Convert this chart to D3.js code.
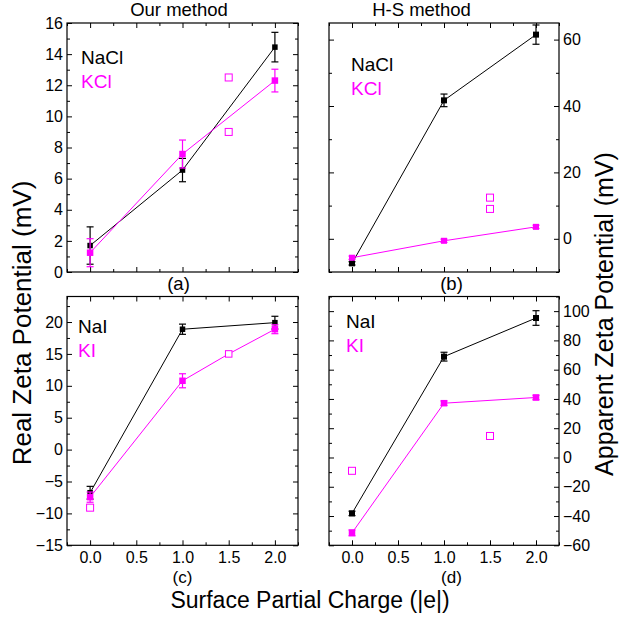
<!DOCTYPE html>
<html><head><meta charset="utf-8">
<script src="https://cdn.jsdelivr.net/npm/d3@7"></script>
<style>
body{margin:0;background:#fff;}
text{font-family:"Liberation Sans",Arial,sans-serif;}
</style></head>
<body><svg id="c" width="619" height="617"></svg>
<script>
// ---------- data ----------
const xTicks = [0, 0.5, 1, 1.5, 2];
const xTickLabels = ["0.0", "0.5", "1.0", "1.5", "2.0"];

// (a) Our method, chlorides
const aNaClX = [0, 1, 2];
const aNaClY = [1.7, 6.55, 14.45];
const aNaClErr = [1.2, 0.75, 0.95];
const aKClX = [0, 1, 2];
const aKClY = [1.24, 7.58, 12.3];
const aKClErr = [0.9, 0.9, 0.73];
const aOpenX = [1.5, 1.5];
const aOpenY = [12.5, 9.0];

// (b) H-S method, chlorides
const bNaClX = [0, 1, 2];
const bNaClY = [-7.4, 41.7, 61.5];
const bNaClErr = [0.5, 1.9, 2.9];
const bKClX = [0, 1, 2];
const bKClY = [-5.7, -0.6, 3.6];
const bKClErr = [0.5, 0.5, 0.5];
const bOpenX = [1.5, 1.5];
const bOpenY = [12.4, 9.0];

// (c) Our method, iodides
const cNaIX = [0, 1, 2];
const cNaIY = [-6.76, 18.87, 19.9];
const cNaIErr = [1.0, 0.8, 1.0];
const cKIX = [0, 1, 1.5, 2];
const cKIY = [-7.45, 10.79, 15.0, 18.87];
const cKIErr = [0.8, 1.1, 0, 0.7];
const cKIFilled = [true, true, false, true];
const cOpenX = [0];
const cOpenY = [-9.1];

// (d) H-S method, iodides
const dNaIX = [0, 1, 2];
const dNaIY = [-38.2, 68.9, 95.3];
const dNaIErr = [1.5, 3.0, 5.0];
const dKIX = [0, 1, 2];
const dKIY = [-51.5, 37.1, 41.0];
const dKIErr = [2.0, 1.5, 1.5];
const dOpenX = [0, 1.5];
const dOpenY = [-9.1, 14.7];

// axis setups
const aYTicks = [0, 2, 4, 6, 8, 10, 12, 14, 16];
const bYTicks = [0, 20, 40, 60];
const cYTicks = [-15, -10, -5, 0, 5, 10, 15, 20];
const dYTicks = [-60, -40, -20, 0, 20, 40, 60, 80, 100];

const MAG = "#ff00ff";
const FONT = "Liberation Sans, Arial, sans-serif";
const svg = d3.select("#c");

function panel(o) {
  const g = svg.append("g");
  const x = d3.scaleLinear().domain([-0.25, 2.25]).range([o.x0, o.x1]);
  const y = d3.scaleLinear().domain(o.ydom).range([o.y1, o.y0]);
  g.append("rect").attr("x", o.x0).attr("y", o.y0).attr("width", o.x1 - o.x0).attr("height", o.y1 - o.y0)
    .attr("fill", "none").attr("stroke", "#000").attr("stroke-width", 1.2);
  const xMajor = xTicks, xMinor = d3.range(-0.25, 2.26, 0.25).filter(v => !xMajor.some(m => Math.abs(m - v) < 1e-6));
  const bottomAx = d3.axisBottom(x).tickValues(xMajor).tickSizeInner(-5).tickSizeOuter(0)
    .tickFormat((d, i) => o.xlabels ? xTickLabels[i] : "");
  const bx = g.append("g").attr("transform", `translate(0,${o.y1})`).call(bottomAx);
  g.append("g").attr("transform", `translate(0,${o.y0})`).call(d3.axisTop(x).tickValues(xMajor).tickSizeInner(-5).tickSizeOuter(0).tickFormat(""));
  g.append("g").attr("transform", `translate(0,${o.y1})`).call(d3.axisBottom(x).tickValues(xMinor).tickSizeInner(-3).tickSizeOuter(0).tickFormat(""));
  g.append("g").attr("transform", `translate(0,${o.y0})`).call(d3.axisTop(x).tickValues(xMinor).tickSizeInner(-3).tickSizeOuter(0).tickFormat(""));
  bx.selectAll("text").attr("y", 6).attr("font-size", 16).attr("fill", "#000");
  const yMinor = d3.range(o.ydom[0], o.ydom[1] + 1e-6, o.minor).filter(v => !o.yticks.some(m => Math.abs(m - v) < 1e-6));
  const ylab = g.append("g").attr("transform", `translate(${o.x0},0)`).call(d3.axisLeft(y).tickValues(o.yticks).tickSizeInner(-5).tickSizeOuter(0).tickFormat(o.side === "left" ? d3.format("d") : ""));
  const yrab = g.append("g").attr("transform", `translate(${o.x1},0)`).call(d3.axisRight(y).tickValues(o.yticks).tickSizeInner(-5).tickSizeOuter(0).tickFormat(o.side === "right" ? d3.format("d") : ""));
  g.append("g").attr("transform", `translate(${o.x0},0)`).call(d3.axisLeft(y).tickValues(yMinor).tickSizeInner(-3).tickSizeOuter(0).tickFormat(""));
  g.append("g").attr("transform", `translate(${o.x1},0)`).call(d3.axisRight(y).tickValues(yMinor).tickSizeInner(-3).tickSizeOuter(0).tickFormat(""));
  ylab.selectAll("text").attr("x", -4).attr("font-size", 16).attr("fill", "#000");
  yrab.selectAll("text").attr("x", 4).attr("font-size", 16).attr("fill", "#000");
  g.selectAll(".domain").remove();
  g.selectAll(".tick line").attr("stroke", "#000").attr("stroke-width", 1);
  g.selectAll("g").attr("font-family", FONT);

  o.series.forEach(s => {
    const pts = s.x.map((xv, i) => ({ x: xv, y: s.y[i], e: s.err ? s.err[i] : 0, f: s.filled ? s.filled[i] : true }));
    g.append("path").datum(pts).attr("fill", "none").attr("stroke", s.color).attr("stroke-width", 1)
      .attr("d", d3.line().x(d => x(d.x)).y(d => y(d.y)));
    const cap = 3.5;
    pts.filter(d => d.e > 0).forEach(d => {
      const eg = g.append("g").attr("stroke", s.color).attr("stroke-width", 1.2);
      eg.append("line").attr("x1", x(d.x)).attr("x2", x(d.x)).attr("y1", y(d.y - d.e)).attr("y2", y(d.y + d.e));
      eg.append("line").attr("x1", x(d.x) - cap).attr("x2", x(d.x) + cap).attr("y1", y(d.y - d.e)).attr("y2", y(d.y - d.e));
      eg.append("line").attr("x1", x(d.x) - cap).attr("x2", x(d.x) + cap).attr("y1", y(d.y + d.e)).attr("y2", y(d.y + d.e));
    });
    const sz = s.size;
    g.selectAll(null).data(pts).join("rect")
      .attr("x", d => x(d.x) - (d.f ? sz : 6.5) / 2).attr("y", d => y(d.y) - (d.f ? sz : 6.5) / 2)
      .attr("width", d => d.f ? sz : 6.5).attr("height", d => d.f ? sz : 6.5)
      .attr("fill", d => d.f ? s.color : "#fff").attr("stroke", s.color).attr("stroke-width", d => d.f ? 0 : 1);
  });
  o.open.x.forEach((xv, i) => {
    g.append("rect").attr("x", x(xv) - 3.5).attr("y", y(o.open.y[i]) - 3.5).attr("width", 7).attr("height", 7)
      .attr("fill", "none").attr("stroke", MAG).attr("stroke-width", 1);
  });
  g.append("text").attr("x", o.leg[0]).attr("y", o.leg[1]).attr("font-size", 19).attr("fill", "#000").text(o.names[0]);
  g.append("text").attr("x", o.leg[0]).attr("y", o.leg[2]).attr("font-size", 19).attr("fill", MAG).text(o.names[1]);
  g.append("text").attr("x", o.lab[0]).attr("y", o.lab[1]).attr("text-anchor", "middle").attr("font-size", o.lab[3]).attr("fill", "#000").text(o.lab[2]);
}

panel({ x0: 67, x1: 298, y0: 23, y1: 272, ydom: [0, 16], yticks: aYTicks, minor: 1, side: "left", xlabels: false,
  series: [
    { x: aNaClX, y: aNaClY, err: aNaClErr, color: "#000", size: 5.5 },
    { x: aKClX, y: aKClY, err: aKClErr, color: MAG, size: 6.5 }
  ],
  open: { x: aOpenX, y: aOpenY }, leg: [81, 64, 88], names: ["NaCl", "KCl"], lab: [178.5, 290, "(a)", 18.5] });

panel({ x0: 329, x1: 559, y0: 23, y1: 272, ydom: [-10, 65], yticks: bYTicks, minor: 10, side: "right", xlabels: false,
  series: [
    { x: bNaClX, y: bNaClY, err: bNaClErr, color: "#000", size: 6 },
    { x: bKClX, y: bKClY, err: bKClErr, color: MAG, size: 6 }
  ],
  open: { x: bOpenX, y: bOpenY }, leg: [351, 71, 95], names: ["NaCl", "KCl"], lab: [451.5, 290, "(b)", 18.5] });

panel({ x0: 67, x1: 298, y0: 296.5, y1: 545.3, ydom: [-15, 24], yticks: cYTicks, minor: 2.5, side: "left", xlabels: true,
  series: [
    { x: cNaIX, y: cNaIY, err: cNaIErr, color: "#000", size: 5.5 },
    { x: cKIX, y: cKIY, err: cKIErr, filled: cKIFilled, color: MAG, size: 6.5 }
  ],
  open: { x: cOpenX, y: cOpenY }, leg: [78, 333, 357], names: ["NaI", "KI"], lab: [182.5, 583, "(c)", 17] });

panel({ x0: 329, x1: 559, y0: 296.5, y1: 545.3, ydom: [-60, 110], yticks: dYTicks, minor: 10, side: "right", xlabels: true,
  series: [
    { x: dNaIX, y: dNaIY, err: dNaIErr, color: "#000", size: 6 },
    { x: dKIX, y: dKIY, err: dKIErr, color: MAG, size: 6.5 }
  ],
  open: { x: dOpenX, y: dOpenY }, leg: [346, 328, 352], names: ["NaI", "KI"], lab: [451.5, 583, "(d)", 17] });

svg.append("text").attr("x", 179).attr("y", 16).attr("text-anchor", "middle").attr("font-size", 18.5).text("Our method");
svg.append("text").attr("x", 421.5).attr("y", 16).attr("text-anchor", "middle").attr("font-size", 18.5).text("H-S method");
svg.append("text").attr("transform", "translate(31,323) rotate(-90)").attr("text-anchor", "middle").attr("font-size", 26).text("Real Zeta Potential (mV)");
svg.append("text").attr("transform", "translate(613,314) rotate(-90)").attr("text-anchor", "middle").attr("font-size", 25).text("Apparent Zeta Potential (mV)");
svg.append("text").attr("x", 310).attr("y", 608).attr("text-anchor", "middle").attr("font-size", 23).text("Surface Partial Charge (|e|)");
</script></body></html>
